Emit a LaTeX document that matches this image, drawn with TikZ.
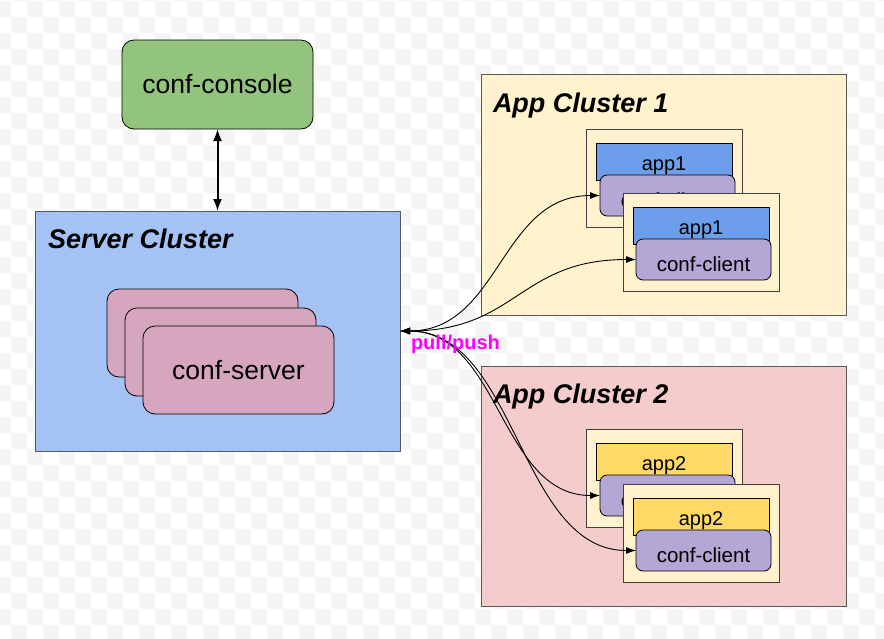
\documentclass[tikz,border=0pt]{standalone}
\usepackage{fontspec}
\setmainfont{Liberation Sans}
\usetikzlibrary{arrows.meta}

\definecolor{consolegreen}{HTML}{93C47D}
\definecolor{serverblue}{HTML}{A4C2F4}
\definecolor{serverpink}{HTML}{D5A6BD}
\definecolor{appcream}{HTML}{FFF2CC}
\definecolor{clusterpink}{HTML}{F4CCCC}
\definecolor{appblue}{HTML}{6D9EEB}
\definecolor{appgold}{HTML}{FFD966}
\definecolor{clientlilac}{HTML}{B4A7D6}
\definecolor{checkergrey}{HTML}{F5F5F5}
\definecolor{pullmagenta}{HTML}{FF00FF}

\begin{document}
\begin{tikzpicture}[x=1pt, y=-1pt,
        every node/.style={inner sep=0pt, outer sep=0pt},
        box/.style={draw, line width=0.8pt, anchor=north west},
        cluster/.style={box, draw=black!65, line width=1pt, minimum width=365pt, minimum height=240pt},
        title/.style={anchor=base west, font=\fontsize{27}{30}\selectfont\bfseries\itshape},
        console/.style={box, fill=consolegreen, rounded corners=12pt, minimum width=191pt, minimum height=89pt, font=\fontsize{26.5}{30}\selectfont},
        confserver/.style={box, fill=serverpink, rounded corners=12pt, minimum width=191pt, minimum height=88pt, font=\fontsize{26.5}{30}\selectfont},
        pod/.style={box, fill=appcream, draw=black!75, minimum width=156pt, minimum height=98pt},
        app/.style={box, minimum width=136pt, minimum height=37pt, text height=17pt, text depth=0pt, font=\fontsize{20}{24}\selectfont},
        client/.style={box, fill=clientlilac, rounded corners=7pt, minimum width=135pt, minimum height=41pt, text height=23pt, text depth=0pt, font=\fontsize{20.5}{24}\selectfont},
        link/.style={line width=0.9pt, {Latex[length=10pt,width=7pt]}-{Latex[length=10pt,width=7pt]}}]

    \useasboundingbox (0,0) rectangle (884,638);
    \begin{scope}
        \clip (0,0) rectangle (884,638);
        \foreach \i in {0,...,55}{
            \foreach \k in {-1,...,20}{
                \fill[checkergrey] ({-5+16*\i},{1+16*(2*\k+mod(\i,2))}) rectangle +(16,16);
            }
        }
    \end{scope}

    % console and server cluster
    \node[console] (console) at (122,40) {conf-console};
    \node[cluster, fill=serverblue] (server) at (35,211) {};
    \node[title] (servertitle) at (48,248) {Server Cluster};
    \node[confserver] (server1) at (107,289) {};
    \node[confserver] (server2) at (125,308) {};
    \node[confserver] (server3) at (143,326) {conf-server};
    \draw[line width=2pt, {Latex[length=12pt,width=9pt]}-{Latex[length=12pt,width=9pt]}] (console.south) -- (server.north -| console.south);

    % app cluster 1
    \node[cluster, fill=appcream, minimum height=241pt] (cluster1) at (481,74) {};
    \node[title] (title1) at (493,112) {App Cluster 1};
    \node[pod] (pod1a) at (586,129) {};
    \node[app, fill=appblue] (app1a) at (596,143) {app1};
    \node[client] (client1a) at (600,175) {conf-client};
    \node[pod] (pod1b) at (623,193) {};
    \node[app, fill=appblue] (app1b) at (633,207) {app1};
    \node[client] (client1b) at (636,239) {conf-client};

    % app cluster 2
    \node[cluster, fill=clusterpink] (cluster2) at (481,366) {};
    \node[title] (title2) at (493,403) {App Cluster 2};
    \node[pod] (pod2a) at (586,429) {};
    \node[app, fill=appgold] (app2a) at (596,443) {app2};
    \node[client] (client2a) at (600,475) {conf-client};
    \node[pod] (pod2b) at (623,484) {};
    \node[app, fill=appgold] (app2b) at (633,498) {app2};
    \node[client] (client2b) at (636,530) {conf-client};

    % pull/push connections
    \draw[link] (server.east) .. controls +(100,0) and +(-100,0) .. (client1a.west);
    \draw[link] (server.east) .. controls +(117,0) and +(-117,0) .. (client1b.west);
    \draw[link] (server.east) .. controls +(100,0) and +(-100,0) .. (client2a.west);
    \draw[link] (server.east) .. controls +(117,0) and +(-117,0) .. (client2b.west);
    \node[anchor=base west, text=pullmagenta, font=\fontsize{20}{24}\selectfont\bfseries] (pullpush) at (411,349) {pull/push};
\end{tikzpicture}
\end{document}
